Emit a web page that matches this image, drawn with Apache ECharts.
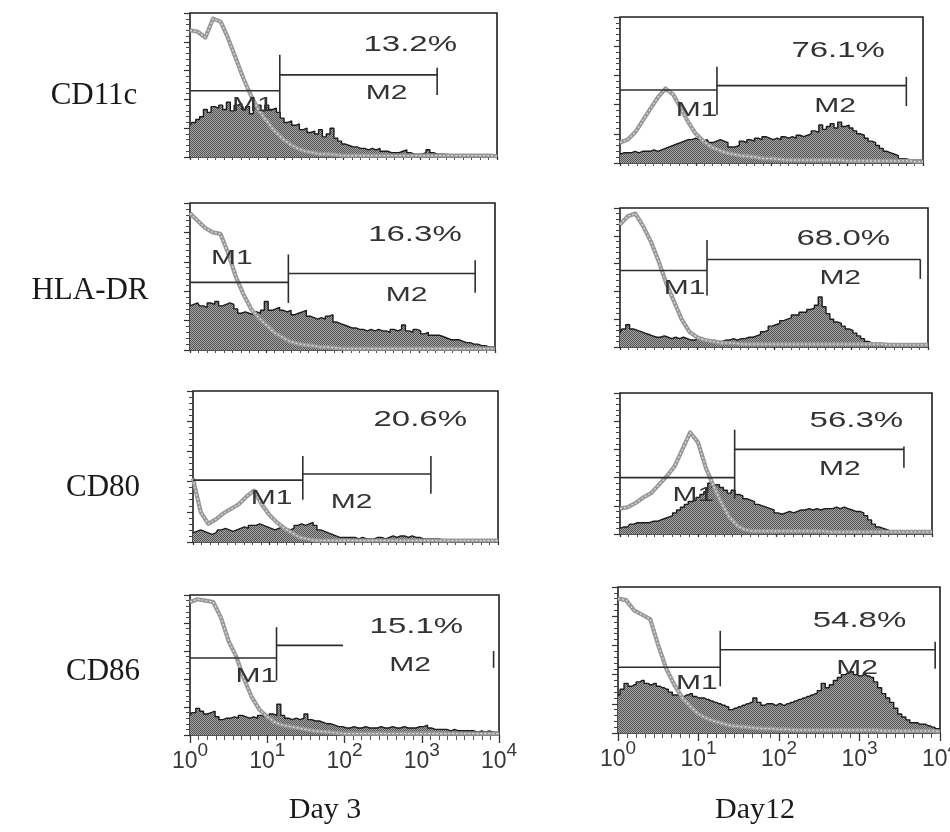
<!DOCTYPE html>
<html><head><meta charset="utf-8">
<script src="https://cdn.jsdelivr.net/npm/echarts@6.0.0/dist/echarts.min.js"></script>
<style>html,body{margin:0;padding:0;background:#fff}#c{width:950px;height:832px}</style>
</head><body><div id="c"></div>
<script>
// ---------- channel grids (log10 of fluorescence) ----------
const channels81 = [0,0.05,0.1,0.15,0.2,0.25,0.3,0.35,0.4,0.45,0.5,0.55,0.6,0.65,0.7,0.75,0.8,0.85,0.9,0.95,
1,1.05,1.1,1.15,1.2,1.25,1.3,1.35,1.4,1.45,1.5,1.55,1.6,1.65,1.7,1.75,1.8,1.85,1.9,1.95,
2,2.05,2.1,2.15,2.2,2.25,2.3,2.35,2.4,2.45,2.5,2.55,2.6,2.65,2.7,2.75,2.8,2.85,2.9,2.95,
3,3.05,3.1,3.15,3.2,3.25,3.3,3.35,3.4,3.45,3.5,3.55,3.6,3.65,3.7,3.75,3.8,3.85,3.9,3.95,4];
const channels41 = [0,0.1,0.2,0.3,0.4,0.5,0.6,0.7,0.8,0.9,1,1.1,1.2,1.3,1.4,1.5,1.6,1.7,1.8,1.9,
2,2.1,2.2,2.3,2.4,2.5,2.6,2.7,2.8,2.9,3,3.1,3.2,3.3,3.4,3.5,3.6,3.7,3.8,3.9,4];

// ---------- Day 3 ----------
const cd11cDay3Sample = [22,24,26,28,33,31,35,34,36,33, 38,32,36,37,33,35,30,34,36,32, 36,33,34,31,27,24,25,22,23,19,
20,17,18,16,19,14,16,20,13,11, 9,8,7,7,6,6,5,6,5,6, 4,4,3,3,3,4,5,3,2,2, 2,3,5,3,2,2,2,1.5,1,1.5, 1,1,1.5,1,1,1,1,1,1,1, 0.5];
const cd11cDay3Control = [88,87,83,96,94,82,68,54,42,32, 25,18,13,9,6,4,3,2,2,1.5, 1,1,1,1,1,1,1,1,1,1, 1,1,1,1,1,1,1,1,1,1, 0.5];
const hladrDay3Sample = [30,31,32,30,29,32,31,33,30,31, 32,31,28,25,26,25,24,26,25,27, 33,27,28,29,27,26,27,24,25,26,
27,23,22,21,22,21,23,24,19,18, 17,16,15,15,14,14,13,14,13,14, 13,13,12,14,13,14,17,13,12,14, 13,11,12,10,10,10,9,8,7,7, 7,6,5,5,4,4,3,3,2,2, 2];
const hladrDay3Control = [93,88,83,80,79,66,50,38,28,22, 17,12,9,6,4.5,3.5,3,2,2,1.5, 1,1,1,1,1,1,1,1,1,1, 1,1,1,1,1,1,1,1,1,1, 1];
const cd80Day3Sample = [6,7,8,7,6,5,6,8,9,8, 7,8,9,10,9,11,11,12,11,10, 9,8,9,10,9,8,9,11,12,11,
12,13,11,8,7,6,5,4,3,3, 3,3,3,2,3,2,2,2,3,3, 2,3,4,3,4,4,3,4,3,3, 2,2,2,2,2,1.5,1.5,1.5,1.5,1.5, 1.5,1.5,1.5,1.5,1.5,1.5,1.5,1.5,1.5,1.5, 1.5];
const cd80Day3Control = [42,20,12,15,19,22,25,30,34,25, 18,13,9,6,3,2,1,1,1,1, 1,1,1,1,1,1,1,1,1,1, 1,1,1,1,1,1,1,1,1,1, 1];
const cd86Day3Sample = [14,16,19,17,15,16,17,13,11,12, 12,13,12,14,13,12,13,12,14,13, 12,15,14,22,14,12,11,12,11,12,
15,11,10,10,9,8,8,7,6,6, 5,5,6,5,5,6,5,5,5,6, 5,5,6,5,5,6,5,5,5,6, 6,7,5,4,4,4,4,3,4,3, 3,3,3,3,2,3,2,3,2,2, 2];
const cd86Day3Control = [95,97,96,95,84,67,56,40,27,18, 13,9,7,6,5,4,3,2.5,2,1.5, 1,1,1,1,1,1,1,1,1,1, 1,1,1,1,1,1,1,1,1,1, 1];

// ---------- Day 12 ----------
const cd11cDay12Sample = [6,7,7,7,8,7,8,8,8,9, 8,9,10,11,12,13,14,15,16,16, 17,16,15,16,14,15,16,15,14,11,
11,12,15,14,16,15,17,16,18,17, 16,17,16,18,17,18,17,19,18,19, 20,22,21,26,23,25,27,24,28,25, 26,24,22,20,19,17,15,14,12,10, 8,7,6,5,3,3,2,2,2,2, 2];
const cd11cDay12Control = [14,16,21,29,37,45,51,47,38,28, 20,15,11,9,7,6,5,4.5,4,3, 3,2.5,2,2,2,2,2,2,2,2, 1.5,1.5,1.5,1.5,1.5,1.5,1.5,1.5,1.5,1, 1];
const hladrDay12Sample = [10,13,16,13,12,11,10,9,8,7, 7,8,7,6,7,6,7,6,5,5, 6,5,5,4,5,4,4,5,5,6,
5,6,6,7,7,8,9,11,12,15, 16,17,19,20,21,23,23,25,25,27, 28,30,36,29,24,20,18,17,15,13, 12,10,8,6,4,3,3,2.5,2,2, 2,2,2,2,2,2,2,2,2,2, 2];
const hladrDay12Control = [88,94,96,87,76,62,46,33,20,11, 7,5,4,3,3,2.5,2,2,2,2, 2,2,2,2,2,2,2,2,2,2, 2,2,2,2,2,1.5,1.5,1.5,1.5,1.5, 1.5];
const cd80Day12Sample = [4,5,5,7,8,8,8,8,9,9, 10,11,12,13,15,17,19,21,23,24, 26,28,30,36,33,35,33,31,29,31,
28,27,25,24,23,21,20,19,18,17, 15,14,15,16,15,16,17,17,18,17, 18,17,18,18,18,19,18,19,18,17, 16,16,15,13,10,7,5,4,3,2, 2,2,1.5,1.5,1.5,1.5,1.5,1.5,1.5,1.5, 1.5];
const cd80Day12Control = [18,19,22,26,29,35,41,48,60,72, 65,47,34,22,12,6,3,2,2,2, 2,2,2,2,2,2,2,1.5,1.5,1.5, 1.5,1.5,1.5,1.5,1.5,1.5,1.5,1.5,1.5,1.5, 1.5];
const cd86Day12Sample = [26,30,34,32,33,35,36,34,33,34, 32,31,30,28,26,26,25,26,27,25, 24,24,23,22,21,20,19,18,16,17,
18,19,20,21,24,21,19,20,20,19, 20,19,20,21,22,23,24,25,26,27, 29,34,31,33,36,38,40,41,42,40, 39,40,39,38,35,31,27,24,21,17, 13,11,9,7,7,6,6,5,4,3, 3];
const cd86Day12Control = [92,91,84,81,78,60,44,33,24,18, 13,10,8,6.5,5,4.5,4,3.5,3,3, 2.5,2.5,2,2,2,2,2,2,2,2, 2,2,2,1.5,1.5,1.5,1.5,1.5,1.5,1.5, 1];

// ---------- gates and annotations (panels: Day3 rows 1-4, then Day12 rows 1-4) ----------
const percentText = ['13.2%','16.3%','20.6%','15.1%','76.1%','68.0%','56.3%','54.8%'];
const gateSplit = [1.17,1.29,1.44,1.12,1.28,1.13,1.47,1.27];
const m1Level = [46,46,41,55,50,55,40,45];
const m2Level = [57,52,45,64,53,63,60,57];
const m2LineEnd = [3.22,3.74,3.12,1.98,3.78,3.9,3.64,3.94];
const m2TickX = [3.22,3.74,3.12,3.93,3.78,3.9,3.64,3.94];
const splitTickSpan = [[31,71],[32,65],[28,57],[39,77],[33,66],[37,77],[25,74],[32,70]];
const endTickSpan = [[43,62],[39,61],[32,57],[48,60],[39,59],[49,63],[47,62],[44,62.5]];
const m1LabelAt = [[0.82,36],[0.55,62],[1.03,29],[0.86,42],[1.01,36],[0.84,42],[0.94,27],[0.98,34]];
const m2LabelAt = [[2.56,44],[2.84,37],[2.08,26],[2.85,50],[2.84,39],[2.86,49],[2.82,46],[2.97,44]];
const pctLabelAt = [[2.87,78],[2.95,78],[2.98,81],[2.93,77],[2.88,77],[2.9,78],[3.03,80],[3.0,77]];
const rowLabels = ['CD11c','HLA-DR','CD80','CD86'];
const columnLabels = ['Day 3','Day12'];

const samples = [cd11cDay3Sample,hladrDay3Sample,cd80Day3Sample,cd86Day3Sample,cd11cDay12Sample,hladrDay12Sample,cd80Day12Sample,cd86Day12Sample];
const controls = [cd11cDay3Control,hladrDay3Control,cd80Day3Control,cd86Day3Control,cd11cDay12Control,hladrDay12Control,cd80Day12Control,cd86Day12Control];

// ---------- layout ----------
const boxes = [[190,13,307,144],[190,203,305,147],[193,391,305,151],[190,595,309,140],
               [620,17,303,146],[620,208,308,139],[620,393,312,141],[618,587,322,146]];
const rowLabelPos = [[94,96],[90,291],[103,488],[103,672]];
const colLabelPos = [[325,810],[755,810]];

function makePattern(){
  const c=document.createElement('canvas'); c.width=2; c.height=2;
  const g=c.getContext('2d');
  g.fillStyle='#a4a4a4'; g.fillRect(0,0,2,2);
  g.fillStyle='#555555'; g.fillRect(0,0,1,1); g.fillRect(1,1,1,1);
  return c;
}
const pattern = {image: makePattern(), repeat: 'repeat'};
const zip = (xs, ys) => xs.map((x,i)=>[x, ys[i]]);

const grid=[], xAxis=[], yAxis=[], series=[];
for (let i=0;i<8;i++){
  const b = boxes[i];
  const bottom = (i===3 || i===7);
  grid.push({left:b[0], top:b[1], width:b[2], height:b[3], show:true, borderColor:'#1e1e1e', borderWidth:1.6,
             backgroundColor:'rgba(0,0,0,0)', containLabel:false, outerBoundsMode:'none'});
  xAxis.push({type:'value', gridIndex:i, min:0, max:4, interval:1,
    axisLine:{show:false}, splitLine:{show:false},
    axisTick:{show:true, length: bottom?8:3, lineStyle:{color:'#333', width:1.3}},
    minorTick:{show:true, splitNumber:9, length: bottom?5:3, lineStyle:{color:'#555', width:1}},
    axisLabel:{show:bottom, margin:6, formatter: v => '{b|10}{s|' + v + '}',
      rich:{ b:{fontSize:23, fontFamily:'Liberation Sans', color:'#383838', verticalAlign:'bottom'},
             s:{fontSize:19, fontFamily:'Liberation Sans', color:'#383838', padding:[0,0,13,0], verticalAlign:'top'} }}
  });
  yAxis.push({type:'value', gridIndex:i, min:0, max:100, interval:20,
    axisLine:{show:false}, splitLine:{show:false}, axisLabel:{show:false},
    axisTick:{show:true, length:6, lineStyle:{color:'#333', width:1.2}},
    minorTick:{show:true, splitNumber:5, length:4, lineStyle:{color:'#444', width:1}}
  });
  series.push({type:'line', xAxisIndex:i, yAxisIndex:i, data: zip(channels81, samples[i]), step:'middle',
    symbol:'none', silent:true, z:2, lineStyle:{color:'#1c1c1c', width:1.4}, areaStyle:{color:pattern, opacity:1}});
  series.push({type:'line', xAxisIndex:i, yAxisIndex:i, data: zip(channels41, controls[i]),
    symbol:'none', silent:true, z:3, lineStyle:{color:'#979797', width:4.2, join:'round'}});
  series.push({type:'line', xAxisIndex:i, yAxisIndex:i, data: zip(channels41, controls[i]),
    symbol:'none', silent:true, z:4, lineStyle:{color:'#dadada', width:1.3, type:[2,2]}});
  const gates = [
    [0, m1Level[i], gateSplit[i], m1Level[i]],
    [gateSplit[i], splitTickSpan[i][0], gateSplit[i], splitTickSpan[i][1]],
    [gateSplit[i], m2Level[i], m2LineEnd[i], m2Level[i]],
    [m2TickX[i], endTickSpan[i][0], m2TickX[i], endTickSpan[i][1]]
  ];
  series.push({type:'custom', xAxisIndex:i, yAxisIndex:i, z:5, silent:true, data: gates,
    encode:{x:[0,2], y:[1,3]},
    renderItem:(params, api) => {
      const p1 = api.coord([api.value(0), api.value(1)]);
      const p2 = api.coord([api.value(2), api.value(3)]);
      return {type:'line', shape:{x1:p1[0], y1:p1[1], x2:p2[0], y2:p2[1]}, style:{stroke:'#2e2e2e', lineWidth:1.6}};
    }});
  const texts = [[m1LabelAt[i][0], m1LabelAt[i][1], 0],[m2LabelAt[i][0], m2LabelAt[i][1], 1],[pctLabelAt[i][0], pctLabelAt[i][1], 2]];
  series.push({type:'custom', xAxisIndex:i, yAxisIndex:i, z:6, silent:true, data: texts,
    encode:{x:0, y:1},
    renderItem:(params, api) => {
      const p = api.coord([api.value(0), api.value(1)]);
      const k = api.value(2);
      const t = k===2 ? percentText[i] : (k===0 ? 'M1' : 'M2');
      return {type:'text', x:p[0], y:p[1], scaleX:1.5,
        style:{text:t, fontSize: k===2?22:20, fontFamily:'Liberation Sans', fill:'#333', align:'center', verticalAlign:'middle'}};
    }});
}

const graphic = [];
rowLabels.forEach((t,r)=>graphic.push({type:'text', x:rowLabelPos[r][0], y:rowLabelPos[r][1],
  style:{text:t, font:'31px "Liberation Serif"', fill:'#1a1a1a', align:'center', verticalAlign:'middle', textAlign:'center', textVerticalAlign:'middle'}}));
columnLabels.forEach((t,c)=>graphic.push({type:'text', x:colLabelPos[c][0], y:colLabelPos[c][1],
  style:{text:t, font:'30px "Liberation Serif"', fill:'#1a1a1a', align:'center', verticalAlign:'middle', textAlign:'center', textVerticalAlign:'middle'}}));

const chart = echarts.init(document.getElementById('c'), null, {renderer:'canvas'});
chart.setOption({animation:false, backgroundColor:'#fff', grid, xAxis, yAxis, series, graphic});
</script></body></html>
